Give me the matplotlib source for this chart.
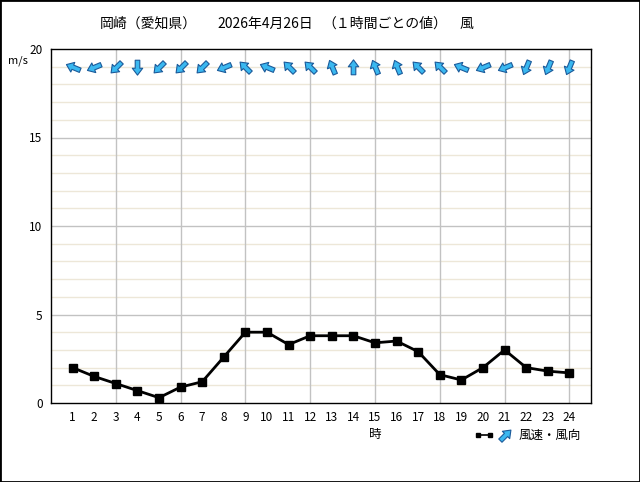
import numpy as np
import matplotlib.pyplot as plt
from matplotlib.path import Path
from matplotlib.markers import MarkerStyle
from matplotlib.patches import Rectangle
from matplotlib.transforms import Affine2D

plt.rcParams['font.family'] = ['Noto Sans CJK JP', 'DejaVu Sans']

# ---- data ----
hours = list(range(1, 25))
wind_speed = [2.0, 1.5, 1.1, 0.7, 0.3, 0.9, 1.2, 2.6, 4.0, 4.0, 3.3, 3.8,
              3.8, 3.8, 3.4, 3.5, 2.9, 1.6, 1.3, 2.0, 3.0, 2.0, 1.8, 1.7]
# wind direction (where it blows from), 16 points
wind_dir = ['東南東', '東北東', '北東', '北', '北東', '北東', '北東', '東北東',
            '南東', '東南東', '南東', '南東', '南南東', '南', '南南東', '南南東',
            '南東', '南東', '東南東', '東北東', '東北東', '北北東', '北北東', '北北東']
compass16 = ['北', '北北東', '北東', '東北東', '東', '東南東', '南東', '南南東',
             '南', '南南西', '南西', '西南西', '西', '西北西', '北西', '北北西']
arrow_level = 19
yticks = [0, 5, 10, 15, 20]

# title pieces and their left edges (px)
title_parts = ['岡崎（愛知県）', '2026年4月26日', '（１時間ごとの値）', '風']
title_x = [100, 217, 322, 460]

# block arrow glyph pointing up
arrow_path = Path([(0, 1), (-0.68, 0.1), (-0.3, 0.1), (-0.3, -0.95),
                   (0.3, -0.95), (0.3, 0.1), (0.68, 0.1), (0, 1)],
                  [Path.MOVETO] + [Path.LINETO] * 6 + [Path.CLOSEPOLY])


def arrow_marker(to_bearing):
    # rotate the up-pointing glyph clockwise by the bearing it points to
    return MarkerStyle(arrow_path, transform=Affine2D().rotate_deg(-to_bearing))


fig = plt.figure(figsize=(6.4, 4.82), dpi=100)
ax = fig.add_axes([51 / 640, 1 - 403 / 482, 540 / 640, 354 / 482])

ax.set_xlim(0, 25)
ax.set_ylim(0, 20)

# grid
for v in range(1, 20):
    if v % 5:
        ax.axhline(v, color='#ede7d8', lw=1, zorder=0)
    else:
        ax.axhline(v, color='#c2c2c2', lw=1, zorder=0)
for h in range(3, 25, 3):
    ax.axvline(h, color='#c2c2c2', lw=1, zorder=0)

ax.plot(hours, wind_speed, color='black', lw=2, marker='s', ms=5.5,
        zorder=3)

arrow_fc = '#3ab8f0'
arrow_ec = '#1a5a9a'
for h, d in zip(hours, wind_dir):
    to_bearing = compass16.index(d) * 22.5 + 180
    ax.plot(h, arrow_level, marker=arrow_marker(to_bearing), ms=11,
            mfc=arrow_fc, mec=arrow_ec, mew=0.8, ls='none', zorder=4)

ax.set_xticks(hours)
ax.set_xticklabels([str(h) for h in hours], fontsize=8.5)
ax.set_yticks(yticks)
ax.set_yticklabels([str(v) for v in yticks], fontsize=8.5)
ax.tick_params(length=0, pad=6)
for s in ax.spines.values():
    s.set_color('black')
    s.set_linewidth(1)

for part, x in zip(title_parts, title_x):
    fig.text(x / 640, 1 - 24 / 482, part, fontsize=10, ha='left',
             va='center')
fig.text(18 / 640, 1 - 61 / 482, 'm/s', fontsize=8, ha='center', va='center')
ax.text(15, -1.8, '時', fontsize=9, ha='center', va='center')

# legend at bottom right
lx0, lx1, ly = 478 / 640, 490 / 640, 1 - 435 / 482
fig.lines.append(plt.Line2D([lx0, lx1], [ly, ly], transform=fig.transFigure,
                            color='black', lw=1.2, marker='s', ms=2.5))
fig.lines.append(plt.Line2D([505 / 640], [ly], transform=fig.transFigure,
                            marker=arrow_marker(45), ms=11, mfc=arrow_fc,
                            mec=arrow_ec, mew=0.8, ls='none'))
fig.text(519 / 640, ly, '風速・風向', fontsize=9, ha='left', va='center')

fig.patches.append(Rectangle((0, 0), 1, 1, transform=fig.transFigure,
                             fill=False, edgecolor='black', lw=2))

fig.savefig('out.png', dpi=100)
